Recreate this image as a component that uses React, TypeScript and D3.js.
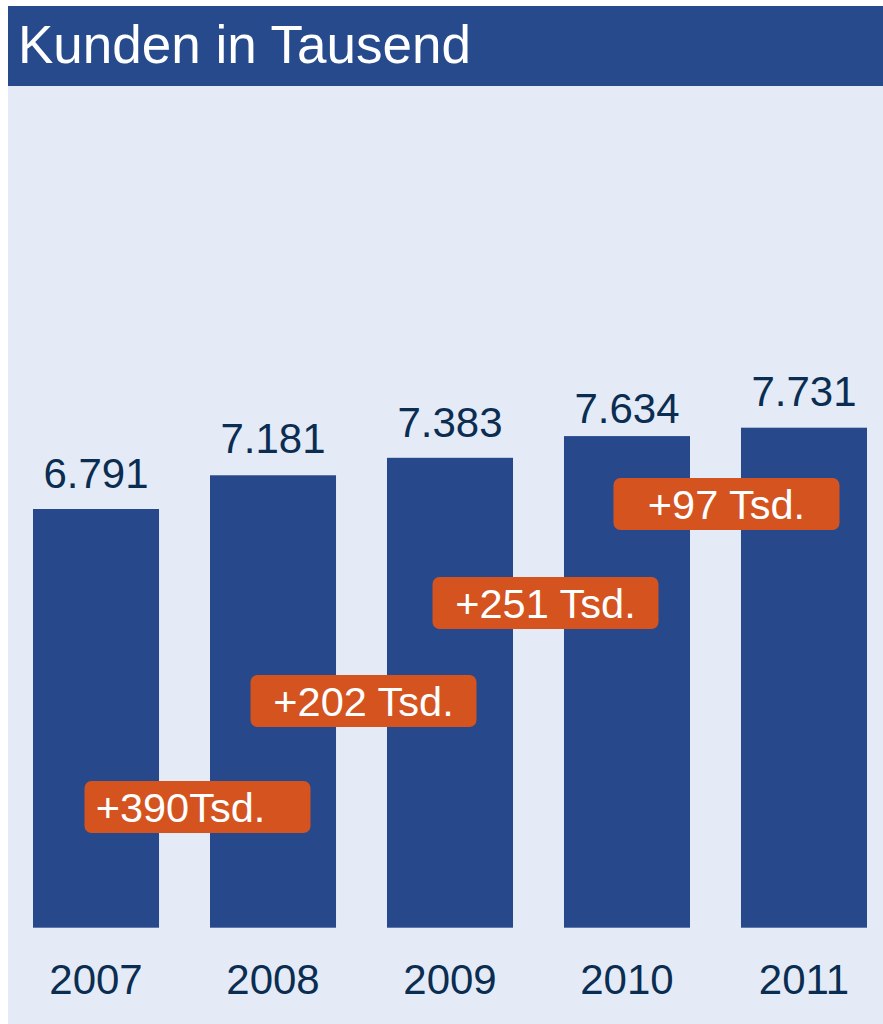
import React from "react";
import * as d3 from "d3";

// ---- data ----
const years = ["2007", "2008", "2009", "2010", "2011"];
const customers = [6791, 7181, 7383, 7634, 7731];
const valueLabels = ["6.791", "7.181", "7.383", "7.634", "7.731"];
const changeLabels = ["+390Tsd.", "+202 Tsd.", "+251 Tsd.", "+97 Tsd."];
const title = "Kunden in Tausend";

// ---- layout (annotation placement, not data) ----
const W = 883;
const H = 1024;
const labelGap = [21, 22, 21, 13, 22];
const boxDx = [13, 2, 7, 11];
const boxTop = [781, 675, 577, 478];
const boxTextDx = [-17, 0, 0, 0];

const HEADER = "#264a8c";
const BAR = "#27498b";
const BG = "#e4ebf6";
const ORANGE = "#d4531f";
const TEXT = "#0b2d52";
const FONT = "'Liberation Sans', Arial, Helvetica, sans-serif";

export default function App() {
  const x = d3.scaleBand<string>().domain(years).range([33, 867]).paddingInner(0.288).paddingOuter(0);
  const y = d3.scaleLinear().domain([1950, 7731]).range([927.7, 427.7]);
  const bw = x.bandwidth();
  const boxW = 226;
  const boxH = 52;

  return (
    <svg
      width={W}
      height={H}
      style={{ position: "absolute", left: 0, top: 0, display: "block" }}
      fontFamily={FONT}
    >
      <rect x={0} y={0} width={W} height={H} fill="#ffffff" />
      <rect x={8} y={86} width={W - 8} height={H - 86} fill={BG} />
      <rect x={8} y={6} width={W - 8} height={80} fill={HEADER} />
      <text x={18} y={63} fill="#ffffff" fontSize={53}>
        {title}
      </text>

      {years.map((yr, i) => (
        <rect
          key={yr}
          x={x(yr)}
          y={y(customers[i])}
          width={bw}
          height={y(1950) - y(customers[i])}
          fill={BAR}
        />
      ))}

      {years.map((yr, i) => (
        <text
          key={"v" + yr}
          x={(x(yr) as number) + bw / 2}
          y={y(customers[i]) - labelGap[i]}
          textAnchor="middle"
          fontSize={42}
          fill={TEXT}
        >
          {valueLabels[i]}
        </text>
      ))}

      {years.map((yr) => (
        <text
          key={"y" + yr}
          x={(x(yr) as number) + bw / 2}
          y={994}
          textAnchor="middle"
          fontSize={42}
          fill={TEXT}
        >
          {yr}
        </text>
      ))}

      {changeLabels.map((lbl, i) => {
        const gapCenter = ((x(years[i]) as number) + bw + (x(years[i + 1]) as number)) / 2;
        const cx = gapCenter + boxDx[i];
        const top = boxTop[i];
        return (
          <g key={"c" + i}>
            <rect
              x={cx - boxW / 2}
              y={top}
              width={boxW}
              height={boxH}
              rx={7}
              ry={7}
              fill={ORANGE}
            />
            <text
              x={cx + boxTextDx[i]}
              y={top + boxH / 2 + 14.5}
              textAnchor="middle"
              fontSize={41.5}
              fill="#ffffff"
            >
              {lbl}
            </text>
          </g>
        );
      })}
    </svg>
  );
}
